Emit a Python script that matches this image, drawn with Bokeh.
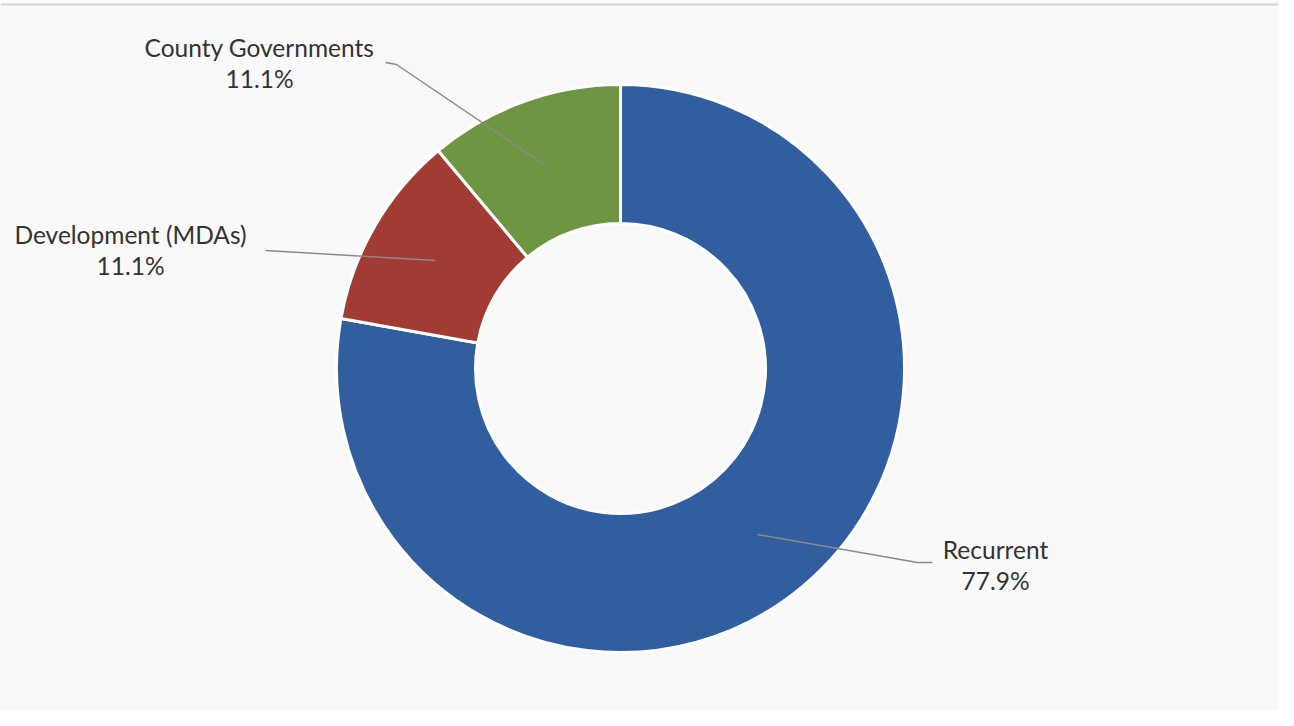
import math
from bokeh.plotting import figure
from bokeh.models import Range1d, ColumnDataSource
from bokeh.core.properties import value
from bokeh.embed import file_html
from bokeh.resources import INLINE

# Data
categories = ["Recurrent", "Development (MDAs)", "County Governments"]
shares = [77.9, 11.1, 11.1]
colors = ["#305E9E", "#A23B31", "#6E9541"]
pct_labels = ["77.9%", "11.1%", "11.1%"]

W, H = 1278, 710
IMG_H = 726

def Y(y):  # reference image pixel row -> data y
    return IMG_H - y

p = figure(width=W, height=H, output_backend="svg", toolbar_location=None,
           x_range=Range1d(0, W), y_range=Range1d(IMG_H - H, IMG_H),
           min_border=0)
p.axis.visible = False
p.grid.visible = False
p.outline_line_color = None
p.background_fill_color = "#F9F9F9"
p.border_fill_color = "#F9F9F9"

# faint top rule
p.line([0, W], [Y(4), Y(4)], line_color="#D5D5D5", line_width=2)

cx, cy = 620, Y(368)
r_out, r_in = 284, 145

total = sum(shares)
starts, ends = [], []
cum = 0.0
for s in shares:
    frac = s / total
    starts.append(math.pi / 2 - cum * 2 * math.pi)
    ends.append(math.pi / 2 - (cum + frac) * 2 * math.pi)
    cum += frac

src = ColumnDataSource(dict(start=starts, end=ends, color=colors))
p.annular_wedge(x=cx, y=cy, inner_radius=r_in, outer_radius=r_out,
                start_angle="start", end_angle="end", direction="clock",
                fill_color="color", line_color="white", line_width=3, source=src)

# Leader lines (layout)
leaders = [
    [(757, 534), (917, 562), (932, 562)],   # Recurrent
    [(265, 250), (435, 260)],               # Development
    [(385, 62), (396, 64), (545, 165)],     # County
]
for pts in leaders:
    p.line([q[0] for q in pts], [Y(q[1]) for q in pts], line_color="#8A8A8A", line_width=1.5)

label_pos = [(995, 549), (130, 234), (259, 47)]
for (lx, ly), name, pct in zip(label_pos, categories, pct_labels):
    p.text(x=[lx], y=[Y(ly)], text=[name], text_align="center", text_baseline="middle",
           text_font=value("Lato"), text_font_size="24.5px", text_color="#333333")
    p.text(x=[lx], y=[Y(ly + 31)], text=[pct], text_align="center", text_baseline="middle",
           text_font=value("Lato"), text_font_size="24.5px", text_color="#333333")

open("out.html", "w").write(file_html(p, INLINE))
